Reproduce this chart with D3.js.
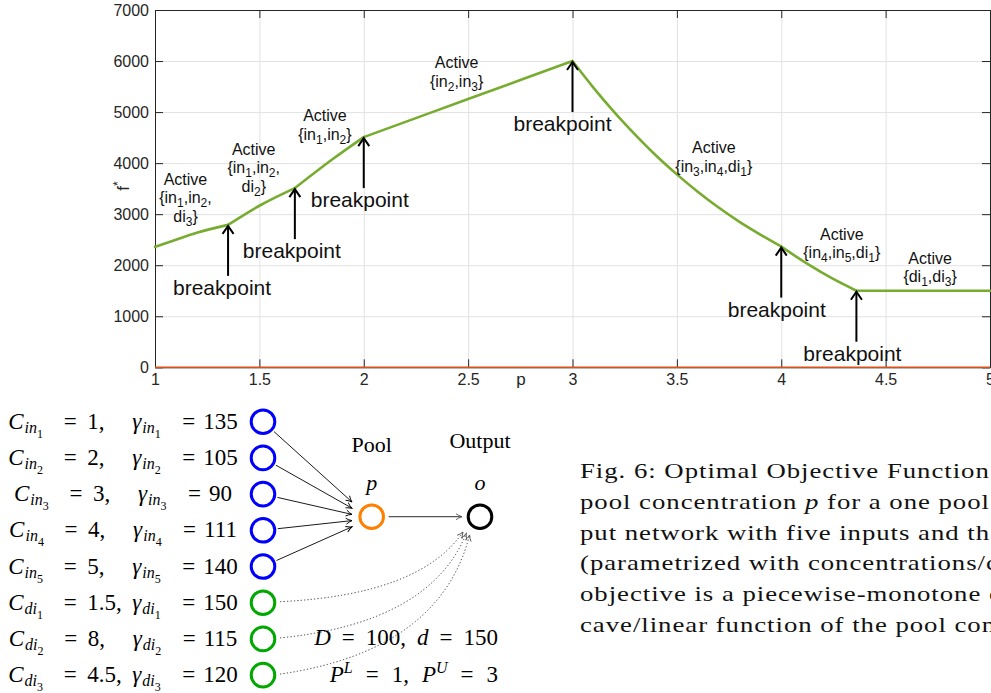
<!DOCTYPE html>
<html><head><meta charset="utf-8">
<script src="https://cdn.jsdelivr.net/npm/d3@7"></script>
<style>body{margin:0;background:#fff} svg{display:block}</style>
</head><body>
<svg id="chart" width="991" height="693"></svg>
<script>
// ---------- chart data ----------
const pValues = [1.0, 1.1, 1.2, 1.35, 1.5, 1.67, 1.85, 2.0, 2.5, 3.0, 3.1, 3.2, 3.3, 3.4, 3.5, 3.6, 3.7, 3.8, 3.9, 4.0, 4.12, 4.24, 4.36, 4.7, 5.0];
const fValues = [2360, 2500, 2635, 2790, 3165, 3510, 4075, 4510, 5255, 6000, 5480, 5000, 4560, 4150, 3780, 3440, 3130, 2850, 2600, 2365, 2040, 1750, 1500, 1500, 1500];
const zeroP = [1, 5];
const zeroF = [0, 0];
const xTicks = [1, 1.5, 2, 2.5, 3, 3.5, 4, 4.5, 5];
const yTicks = [0, 1000, 2000, 3000, 4000, 5000, 6000, 7000];
const breakpointP = [1.35, 1.67, 2, 3, 4, 4.36];
const breakpointF = [2790, 3510, 4510, 6000, 2365, 1500];
const breakpointText = "breakpoint";
const activeLines = [
  ["Active", "{in_1,in_2,", "di_3}"],
  ["Active", "{in_1,in_2,", "di_2}"],
  ["Active", "{in_1,in_2}"],
  ["Active", "{in_2,in_3}"],
  ["Active", "{in_3,in_4,di_1}"],
  ["Active", "{in_4,in_5,di_1}"],
  ["Active", "{di_1,di_3}"]
];
const activeP = [1.146, 1.473, 1.814, 2.445, 3.677, 4.290, 4.713];
const activeF = [3575, 4163, 4816, 5863, 4196, 2496, 2025];
const xLabel = "p";
const yLabel = "f";

// ---------- network data ----------
const nodeNames = ["in_1", "in_2", "in_3", "in_4", "in_5", "di_1", "di_2", "di_3"];
const nodeConc = ["1", "2", "3", "4", "5", "1.5", "8", "4.5"];
const nodeGamma = ["135", "105", "90", "111", "140", "150", "115", "120"];
const captionLines = [
  "Fig. 6: Optimal Objective Function",
  "pool concentration |p| for a one pool",
  "put network with five inputs and th",
  "(parametrized with concentrations/c",
  "objective is a piecewise-monotone co",
  "cave/linear function of the pool conc"
];

// ---------- layout ----------
const svg = d3.select("#chart");
svg.append("rect").attr("width", 991).attr("height", 693).attr("fill", "#fff");
const plot = {left: 155, right: 990, top: 10, bottom: 367.3};
const x = d3.scaleLinear().domain([1, 5]).range([plot.left, plot.right]);
const y = d3.scaleLinear().domain([0, 7000]).range([plot.bottom, plot.top]);
const sans = "'Liberation Sans', Arial, Helvetica, sans-serif";
const serif = "'Liberation Serif', 'Times New Roman', serif";
const axisColor = "#262626";

// grid
svg.append("g").attr("transform", `translate(0,${plot.bottom})`)
  .call(d3.axisBottom(x).tickValues(xTicks).tickSize(-(plot.bottom - plot.top)).tickFormat(""))
  .call(g => g.select(".domain").remove())
  .selectAll("line").attr("stroke", "#e2e2e2");
svg.append("g").attr("transform", `translate(${plot.left},0)`)
  .call(d3.axisLeft(y).tickValues(yTicks).tickSize(-(plot.right - plot.left)).tickFormat(""))
  .call(g => g.select(".domain").remove())
  .selectAll("line").attr("stroke", "#e2e2e2");

function styleAxis(g) {
  g.select(".domain").attr("stroke", axisColor).attr("stroke-width", 1);
  g.selectAll(".tick line").attr("stroke", axisColor);
  g.selectAll("text").attr("font-family", sans).attr("font-size", 16).attr("fill", axisColor);
}
svg.append("g").attr("transform", `translate(0,${plot.bottom})`)
  .call(d3.axisBottom(x).tickValues(xTicks).tickSize(-8).tickSizeOuter(0).tickPadding(6).tickFormat(d3.format("")))
  .call(styleAxis);
svg.append("g").attr("transform", `translate(0,${plot.top})`)
  .call(d3.axisTop(x).tickValues(xTicks).tickSize(-8).tickSizeOuter(0).tickFormat(""))
  .call(styleAxis);
svg.append("g").attr("transform", `translate(${plot.left},0)`)
  .call(d3.axisLeft(y).tickValues(yTicks).tickSize(-8).tickSizeOuter(0).tickPadding(6).tickFormat(d3.format("")))
  .call(styleAxis);
svg.append("g").attr("transform", `translate(${plot.right},0)`)
  .call(d3.axisRight(y).tickValues(yTicks).tickSize(-8).tickSizeOuter(0).tickFormat(""))
  .call(styleAxis);

// lines
const pts = pValues.map((p, i) => [p, fValues[i]]);
const zeroLine = d3.line().x(d => x(d[0])).y(d => y(d[1]));
svg.append("path").datum(zeroP.map((p, i) => [p, zeroF[i]]))
  .attr("d", zeroLine).attr("fill", "none").attr("stroke", "#D95319").attr("stroke-width", 1.5);
const segLine = d3.line().x(d => x(d[0])).y(d => y(d[1])).curve(d3.curveMonotoneX);
const edges = [1, ...breakpointP, 5];
for (let s = 0; s < edges.length - 1; s++) {
  const seg = pts.filter(d => d[0] >= edges[s] - 1e-9 && d[0] <= edges[s + 1] + 1e-9);
  svg.append("path").datum(seg).attr("d", segLine).attr("fill", "none")
    .attr("stroke", "#77AC30").attr("stroke-width", 2.6).attr("stroke-linecap", "round");
}

// axis labels
svg.append("text").attr("x", 521).attr("y", 385).attr("text-anchor", "middle")
  .attr("font-family", sans).attr("font-size", 17).attr("fill", axisColor).text(xLabel);
const yl = svg.append("text").attr("transform", "translate(129,186) rotate(-90)")
  .attr("text-anchor", "middle").attr("font-family", sans).attr("font-size", 17).attr("fill", axisColor);
yl.append("tspan").text(yLabel);
yl.append("tspan").attr("font-size", 12).attr("dy", -7).text("*");

// rich text helper (sub/superscripts)
function richText(parent, px, py, segs, opt) {
  const t = parent.append("text").attr("x", px).attr("y", py)
    .attr("font-family", opt.family).attr("fill", opt.fill || "#000")
    .attr("text-anchor", opt.anchor || "start");
  let prev = 0;
  segs.forEach(s => {
    const lvl = s.l || 0;
    const off = opt.offsets[lvl];
    const ts = t.append("tspan").text(s.t).attr("font-size", opt.sizes[lvl]);
    if (off - prev !== 0) ts.attr("dy", off - prev);
    if (s.dx) ts.attr("dx", s.dx);
    if (s.i) ts.attr("font-style", "italic");
    prev = off;
  });
  return t;
}
function parseSub(str) {
  const segs = [];
  let buf = "";
  for (let k = 0; k < str.length; k++) {
    if (str[k] === "_") {
      if (buf) segs.push({t: buf});
      buf = "";
      segs.push({t: str[k + 1], l: 1});
      k++;
    } else buf += str[k];
  }
  if (buf) segs.push({t: buf});
  return segs;
}

// Active set annotations
const annOpt = {family: sans, sizes: {0: 16, 1: 12}, offsets: {0: 0, 1: 4}, anchor: "middle", fill: "#111"};
activeLines.forEach((lines, i) => {
  lines.forEach((ln, k) => {
    richText(svg, x(activeP[i]), y(activeF[i]) + k * 18.5, parseSub(ln), annOpt);
  });
});

// breakpoint arrows
const bpDx = [-6, -3, -4, -10, -4.5, -4];
breakpointP.forEach((p, i) => {
  const hx = x(p), hy = y(breakpointF[i]) + 1, ty = hy + 50;
  svg.append("line").attr("x1", hx).attr("x2", hx).attr("y1", hy + 1).attr("y2", ty)
    .attr("stroke", "#000").attr("stroke-width", 2);
  svg.append("path").attr("d", `M${hx - 5.5},${hy + 8} L${hx},${hy} L${hx + 5.5},${hy + 8}`)
    .attr("fill", "none").attr("stroke", "#000").attr("stroke-width", 2);
  svg.append("text").attr("x", hx + bpDx[i]).attr("y", ty + 19).attr("text-anchor", "middle")
    .attr("font-family", sans).attr("font-size", 21).attr("fill", "#111").text(breakpointText);
});

// ---------- network diagram ----------
const net = svg.append("g");
const defs = svg.append("defs");
defs.append("marker").attr("id", "tip").attr("viewBox", "0 0 8 8").attr("refX", 7).attr("refY", 4)
  .attr("markerWidth", 8).attr("markerHeight", 8).attr("markerUnits", "userSpaceOnUse").attr("orient", "auto")
  .append("path").attr("d", "M1,1 Q4,3.2 7,4 Q4,4.8 1,7").attr("fill", "none").attr("stroke", "#000").attr("stroke-width", 0.9);
defs.append("marker").attr("id", "tipGray").attr("viewBox", "0 0 8 8").attr("refX", 7).attr("refY", 4)
  .attr("markerWidth", 8).attr("markerHeight", 8).attr("markerUnits", "userSpaceOnUse").attr("orient", "auto")
  .append("path").attr("d", "M1,1 Q4,3.2 7,4 Q4,4.8 1,7").attr("fill", "none").attr("stroke", "#555").attr("stroke-width", 0.9);

const rowY0 = 421.7, rowStep = 36.2, nodeX = 263, nodeR = 11.8;
const pool = {x: 371.7, y: 516.7}, out = {x: 480, y: 516.7};
const mathOpt = {family: serif, sizes: {0: 23, 1: 16, 2: 12, "-1": 16}, offsets: {0: 0, 1: 4, 2: 9, "-1": -9}};

nodeNames.forEach((nm, i) => {
  const cy = rowY0 + i * rowStep;
  const by = cy + 7;
  const [base, idx] = nm.split("_");
  const isInput = base === "in";
  // math text row: C_{..} = c,  gamma_{..} = g
  const row = net.append("g");
  richText(row, 0, by, [{t: "C", i: 1}, {t: base, i: 1, l: 1, dx: 1}, {t: idx, l: 2}], mathOpt);
  richText(row, 62, by, [{t: "="}], Object.assign({}, mathOpt, {anchor: "middle"}));
  richText(row, 79, by, [{t: nodeConc[i] + ","}], mathOpt);
  const gx = 124;
  richText(row, gx, by, [{t: "γ", i: 1}, {t: base, i: 1, l: 1, dx: 1}, {t: idx, l: 2}], mathOpt);
  richText(row, gx + 56.5, by, [{t: "="}], Object.assign({}, mathOpt, {anchor: "middle"}));
  richText(row, gx + 71, by, [{t: nodeGamma[i]}], mathOpt);
  const bb = row.node().getBBox();
  row.attr("transform", `translate(${123 - (bb.x + bb.width / 2)},0)`);
  // node circle
  net.append("circle").attr("cx", nodeX).attr("cy", cy).attr("r", nodeR).attr("fill", "none")
    .attr("stroke", isInput ? "#0000ff" : "#00a800").attr("stroke-width", 3);
  if (isInput) {
    const ex = 352, ey = 502 + i * 6.2;
    const dx = ex - nodeX, dy = ey - cy, len = Math.hypot(dx, dy);
    net.append("line").attr("x1", nodeX + dx / len * (nodeR + 3)).attr("y1", cy + dy / len * (nodeR + 3))
      .attr("x2", ex).attr("y2", ey).attr("stroke", "#000").attr("stroke-width", 0.9)
      .attr("marker-end", "url(#tip)");
  } else {
    const k = i - 5;
    const sx = 280, sy = cy - 1;
    const ex = 463 + k * 3.3, ey = 532 + k * 1.5;
    const cx = 420 + k * 10, ccy = 595 + k * 28;
    const pth = d3.path();
    pth.moveTo(sx, sy); pth.quadraticCurveTo(cx, ccy, ex, ey);
    net.append("path").attr("d", pth.toString()).attr("fill", "none").attr("stroke", "#333")
      .attr("stroke-width", 1).attr("stroke-dasharray", "1.2,2.2").attr("marker-end", "url(#tipGray)");
  }
});
net.append("circle").attr("cx", pool.x).attr("cy", pool.y).attr("r", nodeR).attr("fill", "none")
  .attr("stroke", "#ff8000").attr("stroke-width", 3);
net.append("circle").attr("cx", out.x).attr("cy", out.y).attr("r", nodeR).attr("fill", "none")
  .attr("stroke", "#000").attr("stroke-width", 3);
net.append("line").attr("x1", pool.x + 17).attr("y1", pool.y).attr("x2", out.x - 18).attr("y2", out.y)
  .attr("stroke", "#555").attr("stroke-width", 1.2).attr("marker-end", "url(#tipGray)");

const plain = {family: serif, sizes: {0: 22, 1: 14, "-1": 14}, offsets: {0: 0, 1: 5, "-1": -9}, anchor: "middle"};
richText(net, pool.x, 451.7, [{t: "Pool"}], plain);
richText(net, out.x, 448.3, [{t: "Output"}], plain);
richText(net, pool.x, 490, [{t: "p", i: 1}], plain);
richText(net, out.x, 490, [{t: "o", i: 1}], plain);
const endOpt = Object.assign({}, mathOpt, {anchor: "end"});
richText(net, 498, 645, [
  {t: "D", i: 1}, {t: "=", dx: 11}, {t: "100,", dx: 11}, {t: "d", i: 1, dx: 11}, {t: "=", dx: 11}, {t: "150", dx: 11}
], endOpt);
richText(net, 498, 681.7, [
  {t: "P", i: 1}, {t: "L", i: 1, l: -1}, {t: "=", dx: 13}, {t: "1,", dx: 13}, {t: "P", i: 1, dx: 13}, {t: "U", i: 1, l: -1},
  {t: "=", dx: 13}, {t: "3", dx: 13}
], endOpt);

// caption
const cap = svg.append("g");
const capBase = [478.3, 509, 539.7, 570.4, 601.1, 631.8];
const capTexts = captionLines.map((ln, i) => {
  const t = cap.append("text").attr("x", 0).attr("y", capBase[i]).attr("font-family", serif)
    .attr("font-size", 22).attr("letter-spacing", 0.8).attr("fill", "#111");
  ln.split("|").forEach((part, k) => {
    const ts = t.append("tspan").text(part);
    if (k % 2 === 1) ts.attr("font-style", "italic");
  });
  return t;
});
const w0 = capTexts[0].node().getBBox().width;
const sx = 410 / w0;
capTexts.forEach(t => t.attr("transform", `translate(580,0) scale(${sx},1)`));
</script>
</body></html>
